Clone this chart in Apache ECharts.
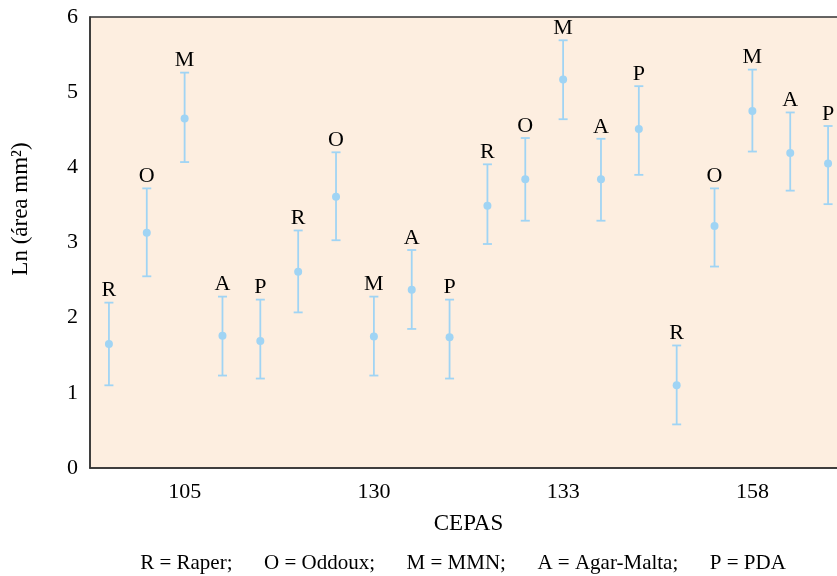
<!DOCTYPE html>
<html>
<head>
<meta charset="utf-8">
<script src="https://cdn.jsdelivr.net/npm/echarts@6/dist/echarts.min.js"></script>
<style>
  html, body { margin: 0; padding: 0; background: #fff; }
  #chart { width: 837px; height: 576px; }
</style>
</head>
<body>
<div id="chart"></div>
<script>
// cepas (grupos del eje x)
var cepas = ['105', '130', '133', '158'];
// medio de cultivo, se repite en cada cepa
var medios = ['R', 'O', 'M', 'A', 'P'];
// Ln(área) media y límites de la barra de error, 5 medios por cepa
var media = [1.65, 3.13, 4.65, 1.76, 1.69,
             2.61, 3.61, 1.75, 2.37, 1.74,
             3.49, 3.84, 5.17, 3.84, 4.51,
             1.10, 3.22, 4.75, 4.19, 4.05];
var superior = [2.20, 3.72, 5.26, 2.28, 2.24,
                3.16, 4.20, 2.28, 2.90, 2.24,
                4.04, 4.39, 5.69, 4.38, 5.08,
                1.63, 3.72, 5.30, 4.73, 4.55];
var inferior = [1.10, 2.55, 4.07, 1.23, 1.19,
                2.07, 3.03, 1.23, 1.85, 1.19,
                2.98, 3.29, 4.64, 3.29, 3.90,
                0.58, 2.68, 4.21, 3.69, 3.51];
var leyenda = 'R = Raper;      O = Oddoux;      M = MMN;      A = Agar-Malta;      P = PDA';

var azul = '#a0d4f4';
var fuente = '"Liberation Serif", "Times New Roman", serif';

var puntos = [];
var barras = [];
for (var i = 0; i < media.length; i++) {
    puntos.push([i + 0.5, media[i]]);
    barras.push([i + 0.5, inferior[i], superior[i]]);
}

var myChart = echarts.init(document.getElementById('chart'));
myChart.setOption({
    animation: false,
    textStyle: { fontFamily: fuente, color: '#000' },
    // el área de trazado se sale por la derecha, como en el original
    grid: {
        left: 90, top: 17, width: 757, bottom: 108,
        outerBoundsMode: 'none',
        containLabel: false,
        show: true,
        backgroundColor: '#fdeee0',
        borderColor: '#333',
        borderWidth: 1.5
    },
    xAxis: [{
        type: 'category',
        data: cepas,
        name: 'CEPAS',
        nameLocation: 'middle',
        nameGap: 44,
        nameTextStyle: { fontSize: 23, color: '#000', fontFamily: fuente },
        axisLine: { lineStyle: { color: '#333', width: 1.5 } },
        axisTick: { inside: true, length: 6, interval: 0, lineStyle: { color: '#333', width: 1.5 } },
        axisLabel: { fontSize: 22, color: '#000', margin: 13, fontFamily: fuente },
        splitLine: { show: false }
    }, {
        type: 'value',
        min: 0,
        max: 20,
        show: false
    }],
    yAxis: {
        type: 'value',
        min: 0,
        max: 6,
        interval: 1,
        axisLine: { show: true, lineStyle: { color: '#333', width: 1.5 } },
        axisTick: { show: false },
        axisLabel: { fontSize: 22, color: '#000', margin: 12, fontFamily: fuente },
        splitLine: { show: false }
    },
    series: [{
        type: 'custom',
        xAxisIndex: 1,
        yAxisIndex: 0,
        data: barras,
        renderItem: function (params, api) {
            var x = api.value(0);
            var bajo = api.coord([x, api.value(1)]);
            var alto = api.coord([x, api.value(2)]);
            var w = 4.5;
            var st = { stroke: azul, lineWidth: 1.8 };
            return {
                type: 'group',
                children: [
                    { type: 'line', shape: { x1: bajo[0], y1: bajo[1], x2: alto[0], y2: alto[1] }, style: st },
                    { type: 'line', shape: { x1: alto[0] - w, y1: alto[1], x2: alto[0] + w, y2: alto[1] }, style: st },
                    { type: 'line', shape: { x1: bajo[0] - w, y1: bajo[1], x2: bajo[0] + w, y2: bajo[1] }, style: st },
                    {
                        type: 'text',
                        style: {
                            text: medios[params.dataIndex % medios.length],
                            x: alto[0],
                            y: alto[1] - 12,
                            align: 'center',
                            verticalAlign: 'middle',
                            font: '22px ' + fuente,
                            fill: '#000'
                        }
                    }
                ]
            };
        },
        z: 2
    }, {
        type: 'scatter',
        xAxisIndex: 1,
        yAxisIndex: 0,
        data: puntos,
        symbolSize: 8,
        itemStyle: { color: azul, opacity: 1 },
        z: 3
    }],
    graphic: [{
        type: 'text',
        x: 21,
        y: 209,
        rotation: Math.PI / 2,
        style: {
            text: 'Ln (área mm²)',
            font: '23px ' + fuente,
            fill: '#000',
            align: 'center',
            verticalAlign: 'middle'
        }
    }, {
        type: 'text',
        x: 463,
        y: 563,
        style: {
            text: leyenda,
            font: '21px ' + fuente,
            fill: '#000',
            align: 'center',
            verticalAlign: 'middle',
            whiteSpace: 'pre'
        }
    }]
});
</script>
</body>
</html>
